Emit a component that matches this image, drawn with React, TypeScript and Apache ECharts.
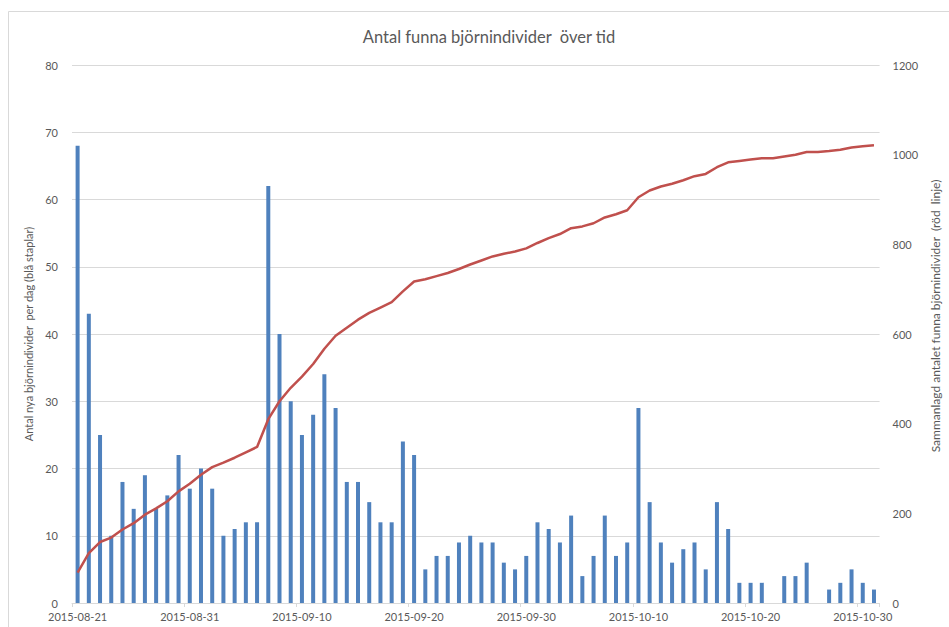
import React, { useEffect, useRef } from "react";
import * as echarts from "echarts";

const startDate = "2015-08-21";
const dayCount = 72;

const dailyNew = [
  68, 43, 25, 10, 18, 14, 19, 14, 16, 22, 17, 20, 17, 10, 11, 12, 12, 62, 40, 30,
  25, 28, 34, 29, 18, 18, 15, 12, 12, 24, 22, 5, 7, 7, 9, 10, 9, 9, 6, 5,
  7, 12, 11, 9, 13, 4, 7, 13, 7, 9, 29, 15, 9, 6, 8, 9, 5, 15, 11, 3,
  3, 3, 0, 4, 4, 6, 0, 2, 3, 5, 3, 2,
];

const cumulative = [
  68, 111, 136, 146, 164, 178, 197, 211, 227, 249, 266, 286, 303, 313, 324, 336, 348, 410, 450, 480,
  505, 533, 567, 596, 614, 632, 647, 659, 671, 695, 717, 722, 729, 736, 745, 755, 764, 773, 779, 784,
  791, 803, 814, 823, 836, 840, 847, 860, 867, 876, 905, 920, 929, 935, 943, 952, 957, 972, 983, 986,
  989, 992, 992, 996, 1000, 1006, 1006, 1008, 1011, 1016, 1019, 1021,
];

const titleText = "Antal funna björnindivider  över tid";
const leftAxisName = "Antal nya björnindivider  per dag (blå staplar)";
const rightAxisName = "Sammanlagd antalet funna björnindivider  (röd  linje)";

function buildDates(start: string, n: number): string[] {
  const out: string[] = [];
  const d = new Date(start + "T12:00:00Z");
  for (let i = 0; i < n; i++) {
    const y = d.getUTCFullYear();
    const m = String(d.getUTCMonth() + 1).padStart(2, "0");
    const day = String(d.getUTCDate()).padStart(2, "0");
    out.push(`${y}-${m}-${day}`);
    d.setUTCDate(d.getUTCDate() + 1);
  }
  return out;
}

const dates = buildDates(startDate, dayCount);

const FONT = "Lato, 'Open Sans', sans-serif";
const TXT = "#595959";
const GRID = "#d9d9d9";

export default function App() {
  const ref = useRef<HTMLDivElement>(null);
  useEffect(() => {
    if (!ref.current) return;
    const chart = echarts.init(ref.current, null, { renderer: "svg" });
    chart.setOption({
      animation: false,
      backgroundColor: "#ffffff",
      textStyle: { fontFamily: FONT },
      title: {
        text: titleText,
        left: 484,
        top: 23,
        textAlign: "center",
        textStyle: { fontFamily: FONT, fontSize: 16.5, fontWeight: "normal", color: TXT },
      },
      graphic: [
        {
          type: "rect",
          shape: { x: 8.5, y: 11.5, width: 1200, height: 1200 },
          style: { fill: "none", stroke: GRID, lineWidth: 1 },
          silent: true,
          z: -10,
        },
      ],
      grid: { left: 72, right: 60, top: 65, bottom: 24, containLabel: false },
      xAxis: {
        type: "category",
        data: dates,
        boundaryGap: true,
        axisLine: { show: true, lineStyle: { color: GRID, width: 1 } },
        axisTick: { show: true, interval: 9, length: 4, lineStyle: { color: GRID } },
        axisLabel: { interval: 9, color: TXT, fontSize: 11, fontFamily: FONT, margin: 8 },
        splitLine: { show: false },
      },
      yAxis: [
        {
          type: "value",
          min: 0,
          max: 80,
          interval: 10,
          name: leftAxisName,
          nameLocation: "middle",
          nameGap: 30,
          nameTextStyle: { color: TXT, fontSize: 11, fontFamily: FONT },
          axisLine: { show: false },
          axisTick: { show: false },
          axisLabel: { color: TXT, fontSize: 11, fontFamily: FONT, margin: 14 },
          splitLine: { show: true, lineStyle: { color: GRID, width: 1 } },
        },
        {
          type: "value",
          min: 0,
          max: 1200,
          interval: 200,
          name: rightAxisName,
          nameLocation: "middle",
          nameGap: 44,
          nameTextStyle: { color: TXT, fontSize: 12, fontFamily: FONT, padding: [0, 0, 0, 36] },
          axisLine: { show: false },
          axisTick: { show: false },
          axisLabel: {
            color: TXT,
            fontSize: 11,
            fontFamily: FONT,
            margin: 13,
            formatter: (v: number) => String(v),
          },
          splitLine: { show: false },
        },
      ],
      series: [
        {
          name: "Nya per dag",
          type: "bar",
          data: dailyNew,
          yAxisIndex: 0,
          barWidth: 4,
          itemStyle: { color: "#4f81bd" },
        },
        {
          name: "Sammanlagt",
          type: "line",
          data: cumulative,
          yAxisIndex: 1,
          symbol: "none",
          lineStyle: { color: "#c0504d", width: 2.5 },
          z: 5,
        },
      ],
    });
    return () => chart.dispose();
  }, []);
  return (
    <div
      ref={ref}
      style={{ position: "fixed", left: 0, top: 0, width: 949, height: 627 }}
    />
  );
}
